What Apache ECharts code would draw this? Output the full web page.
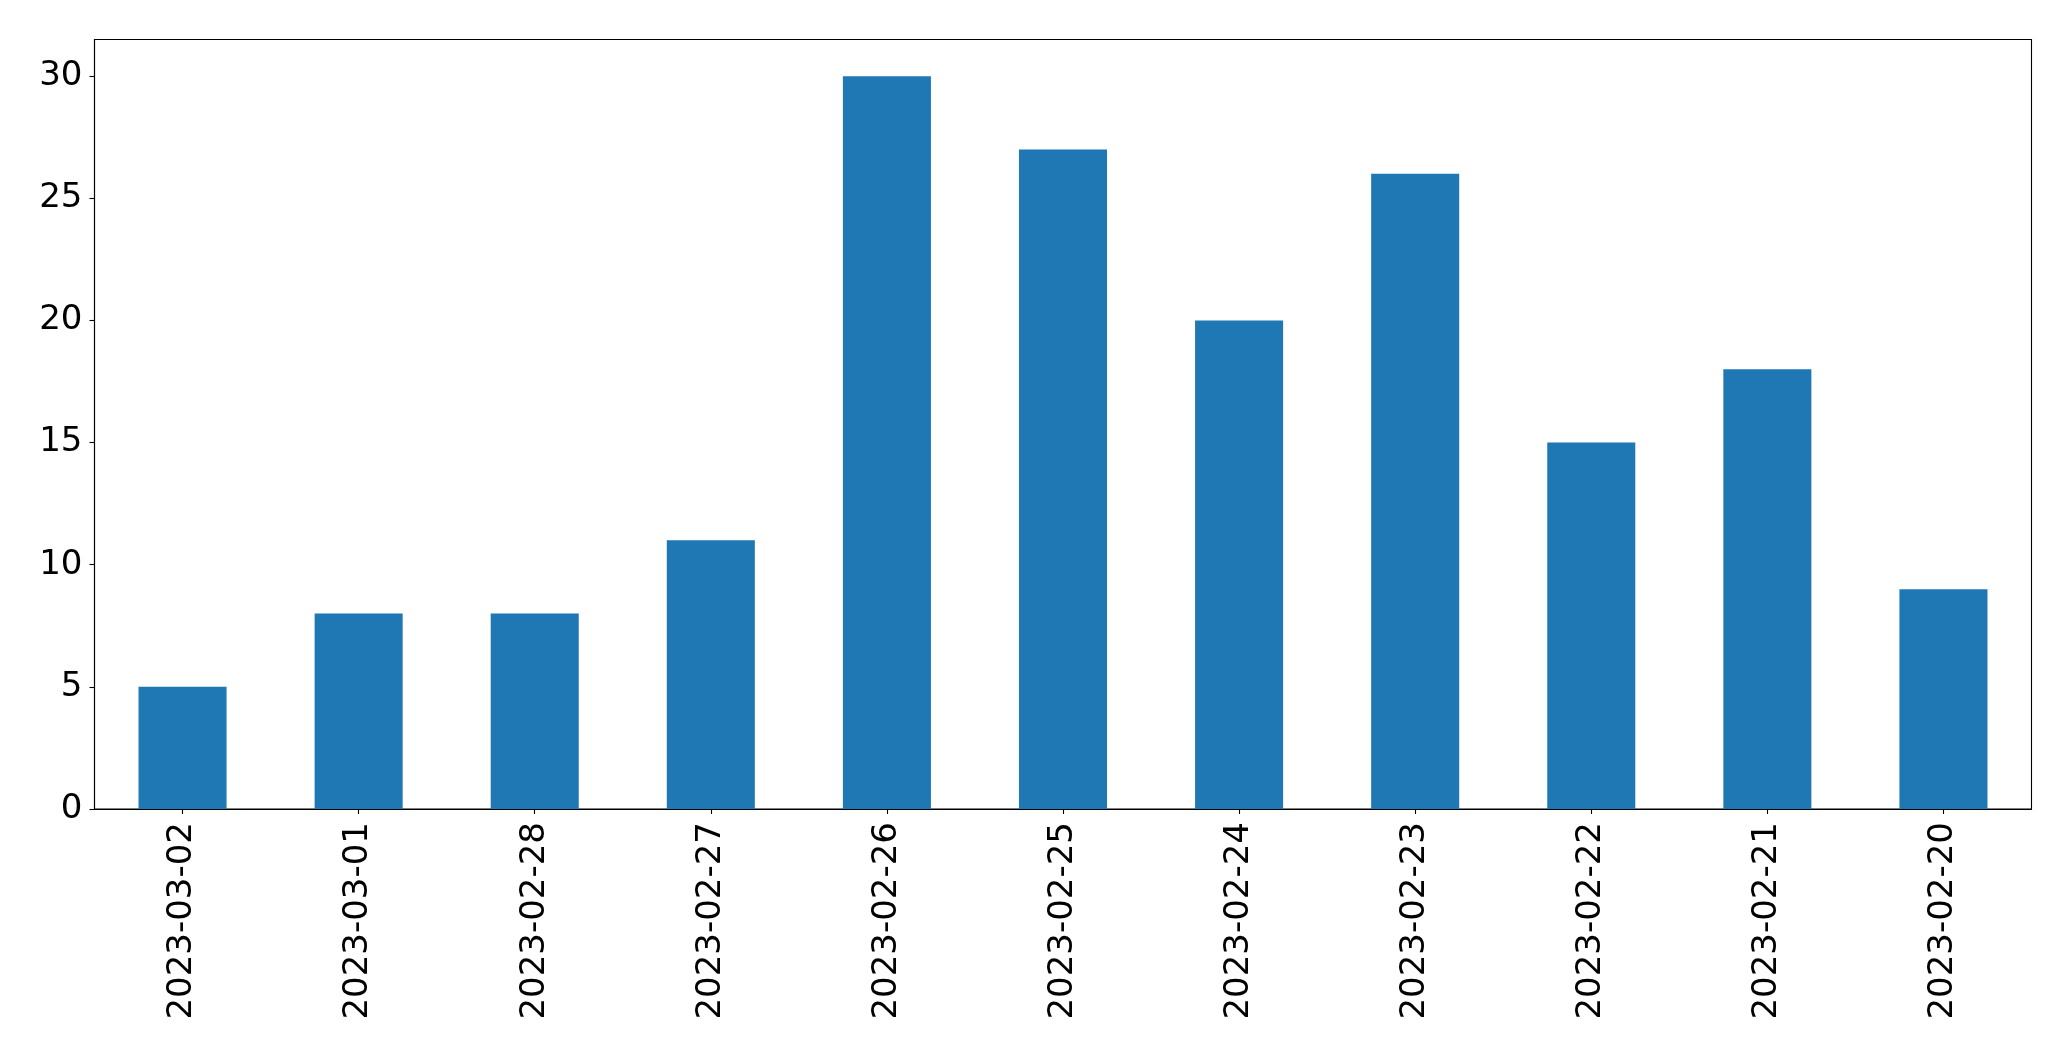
<!DOCTYPE html>
<html>
<head>
<meta charset="utf-8">
<script src="https://cdn.jsdelivr.net/npm/echarts@6/dist/echarts.min.js"></script>
<style>
html,body{margin:0;padding:0;background:#fff;}
#chart{width:2071px;height:1061px;}
</style>
</head>
<body>
<div id="chart"></div>
<script>
const categories = ['2023-03-02','2023-03-01','2023-02-28','2023-02-27','2023-02-26','2023-02-25','2023-02-24','2023-02-23','2023-02-22','2023-02-21','2023-02-20'];
const values = [5, 8, 8, 11, 30, 27, 20, 26, 15, 18, 9];
const yTicks = [0, 5, 10, 15, 20, 25, 30];

const chart = echarts.init(document.getElementById('chart'), null, {renderer:'canvas'});
const font = 'DejaVu Sans';
chart.setOption({
  animation: false,
  backgroundColor: '#fff',
  grid: {left: 94.5, right: 39.5, top: 39.5, bottom: 252, show: true, borderColor: '#000', borderWidth: 1.1, containLabel: false},
  xAxis: {
    type: 'category',
    data: categories,
    boundaryGap: true,
    axisLine: {show: true, lineStyle: {color: '#000', width: 1.1}},
    axisTick: {show: true, alignWithLabel: true, length: 5, lineStyle: {color: '#000', width: 1.1}},
    axisLabel: {rotate: 90, margin: 13, color: '#000', fontFamily: font, fontSize: 34, interval: 0},
    splitLine: {show: false}
  },
  yAxis: {
    type: 'value',
    min: 0, max: 31.5,
    axisLine: {show: true, lineStyle: {color: '#000', width: 1.1}},
    axisTick: {show: true, length: 5, lineStyle: {color: '#000', width: 1.1}, customValues: yTicks},
    axisLabel: {color: '#000', fontFamily: font, fontSize: 34, margin: 12, customValues: yTicks},
    splitLine: {show: false}
  },
  series: [{
    type: 'bar',
    data: values,
    barWidth: '50%',
    itemStyle: {color: '#1f77b4'}
  }]
});
</script>
</body>
</html>
